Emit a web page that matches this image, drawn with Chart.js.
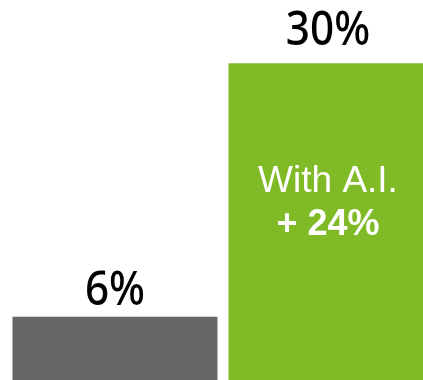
<!DOCTYPE html>
<html>
<head>
<meta charset="utf-8">
<script src="https://cdn.jsdelivr.net/npm/chart.js@4/dist/chart.umd.min.js"></script>
<style>
html,body{margin:0;padding:0;background:#fff;overflow:hidden;width:423px;height:380px;}
#wrap{position:relative;width:439px;height:380px;}
</style>
</head>
<body>
<div id="wrap"><canvas id="c"></canvas></div>
<script>
const categories = ["Without A.I.", "With A.I."];
const values = [6, 30];
const valueLabels = ["6%", "30%"];
const barColors = ["#666666", "#80BA27"];
const innerLine1 = ["", "With A.I."];
const innerLine2 = ["", "+ 24%"];

const labelPlugin = {
  id: 'labels',
  afterDatasetsDraw(chart) {
    const ctx = chart.ctx;
    const meta = chart.getDatasetMeta(0);
    const aboveGap = [12, 18];
    meta.data.forEach((bar, i) => {
      const cx = i === 1 ? bar.x - 3 : bar.x;
      ctx.save();
      ctx.fillStyle = '#000';
      ctx.textAlign = 'center';
      ctx.textBaseline = 'alphabetic';
      ctx.font = '500 48px "Noto Sans"';
      ctx.translate(cx, bar.y - aboveGap[i]);
      ctx.scale(0.88, 1);
      ctx.fillText(valueLabels[i], 0, 0);
      ctx.restore();
      if (innerLine1[i]) {
        ctx.save();
        ctx.fillStyle = '#fff';
        ctx.textAlign = 'center';
        ctx.textBaseline = 'alphabetic';
        ctx.font = '37px "Liberation Sans"';
        ctx.fillText(innerLine1[i], cx, bar.y + 129);
        ctx.font = 'bold 36px "Liberation Sans"';
        ctx.fillText(innerLine2[i], cx, bar.y + 172);
        ctx.restore();
      }
    });
  }
};

new Chart(document.getElementById('c'), {
  type: 'bar',
  data: {
    labels: categories,
    datasets: [{
      data: values,
      backgroundColor: barColors,
      borderWidth: 0,
      barPercentage: 0.949,
      categoryPercentage: 1.0
    }]
  },
  options: {
    responsive: true,
    maintainAspectRatio: false,
    animation: false,
    layout: { padding: { left: 7, right: 0, top: 0, bottom: 0 } },
    plugins: { legend: { display: false }, tooltip: { enabled: false } },
    scales: {
      x: { display: false, grid: { display: false } },
      y: { display: false, min: 0, max: 36, grid: { display: false } }
    }
  },
  plugins: [labelPlugin]
});
</script>
</body>
</html>
